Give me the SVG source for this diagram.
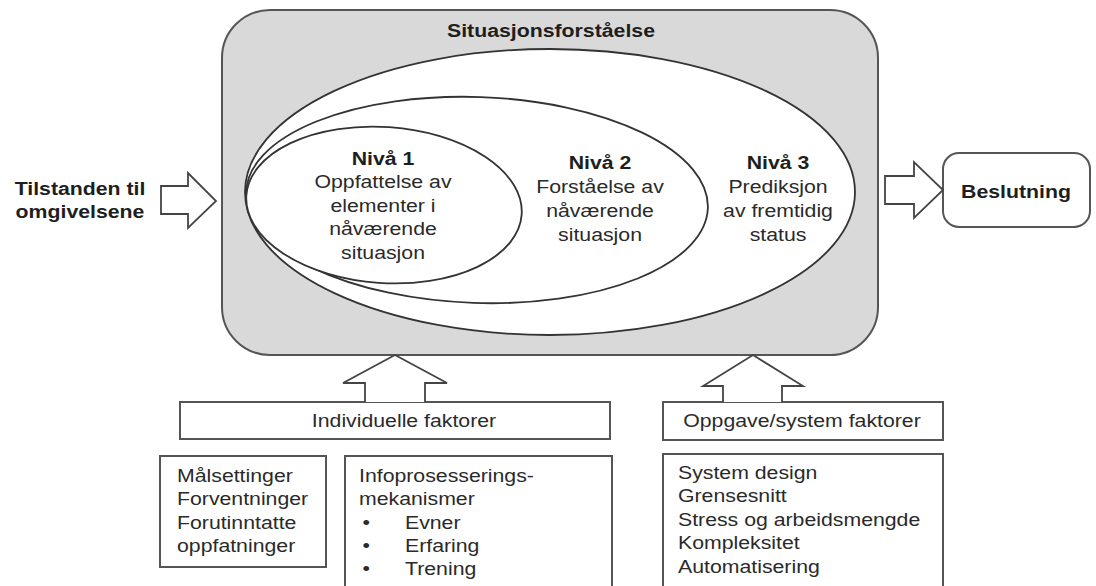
<svg xmlns="http://www.w3.org/2000/svg" width="1096" height="586" viewBox="0 0 1096 586">
<style>
text{font-family:"Liberation Sans",Arial,sans-serif;font-size:18.5px;fill:#2a2a2a}
.b{font-weight:bold;fill:#1e1e1e}
.m{text-anchor:middle}
.box{fill:#fff;stroke:#555;stroke-width:2}
.ell{fill:#fff;stroke:#333;stroke-width:1.8}
.arr{fill:#fff;stroke:#444;stroke-width:1.8;stroke-linejoin:miter}
</style>
<rect width="1096" height="586" fill="#fff"/>
<g id="situasjonsforstaelse">
<rect x="222" y="10" width="656" height="345" rx="48" ry="48" fill="#d9d9d9" stroke="#555" stroke-width="2"/>
<text class="b m" transform="translate(551,37) scale(1.15,1)">Situasjonsforståelse</text>
</g>
<g id="niva3">
<ellipse class="ell" cx="550" cy="192" rx="305" ry="143"/>
<text class="m" transform="translate(778,169) scale(1.15,1)"><tspan class="b" x="0">Nivå 3</tspan><tspan x="0" dy="24">Prediksjon</tspan><tspan x="0" dy="24">av fremtidig</tspan><tspan x="0" dy="24">status</tspan></text>
</g>
<g id="niva2">
<ellipse class="ell" cx="477" cy="200" rx="231" ry="103" transform="rotate(2 477 200)"/>
<text class="m" transform="translate(600,169) scale(1.15,1)"><tspan class="b" x="0">Nivå 2</tspan><tspan x="0" dy="24">Forståelse av</tspan><tspan x="0" dy="24">nåværende</tspan><tspan x="0" dy="24">situasjon</tspan></text>
</g>
<g id="niva1">
<ellipse class="ell" cx="384" cy="205" rx="138" ry="78" transform="rotate(4 384 205)"/>
<text class="m" transform="translate(383,165) scale(1.15,1)"><tspan class="b" x="0">Nivå 1</tspan><tspan x="0" dy="23.5">Oppfattelse av</tspan><tspan x="0" dy="23.5">elementer i</tspan><tspan x="0" dy="23.5">nåværende</tspan><tspan x="0" dy="23.5">situasjon</tspan></text>
</g>
<g id="tilstanden">
<text class="b m" transform="translate(80,195) scale(1.15,1)"><tspan x="0">Tilstanden til</tspan><tspan x="0" dy="23">omgivelsene</tspan></text>
</g>
<g id="beslutning">
<rect class="box" x="943" y="153" width="147" height="74" rx="16" ry="16"/>
<text class="b m" transform="translate(1016,198) scale(1.15,1)">Beslutning</text>
</g>
<g id="individuelle">
<rect class="box" x="180" y="402" width="430" height="37"/>
<text class="m" transform="translate(404,427) scale(1.15,1)">Individuelle  faktorer</text>
</g>
<g id="oppgave">
<rect class="box" x="663" y="402" width="280" height="38"/>
<text class="m" transform="translate(802,427) scale(1.15,1)">Oppgave/system faktorer</text>
</g>
<g id="malsettinger">
<rect class="box" x="160" y="456" width="166" height="111"/>
<text transform="translate(177,482) scale(1.15,1)"><tspan x="0">Målsettinger</tspan><tspan x="0" dy="23.3">Forventninger</tspan><tspan x="0" dy="23.3">Forutinntatte</tspan><tspan x="0" dy="23.3">oppfatninger</tspan></text>
</g>
<g id="infoprosessering">
<rect class="box" x="345" y="456" width="267" height="150"/>
<text transform="translate(359,482) scale(1.15,1)"><tspan x="0">Infoprosesserings-</tspan><tspan x="0" dy="23.3">mekanismer</tspan><tspan x="3" dy="23.3">•</tspan><tspan x="40">Evner</tspan><tspan x="3" dy="23.3">•</tspan><tspan x="40">Erfaring</tspan><tspan x="3" dy="23.3">•</tspan><tspan x="40">Trening</tspan></text>
</g>
<g id="systemfaktorer">
<rect class="box" x="663" y="454" width="280" height="152"/>
<text transform="translate(678,479) scale(1.15,1)"><tspan x="0">System design</tspan><tspan x="0" dy="23.5">Grensesnitt</tspan><tspan x="0" dy="23.5">Stress og arbeidsmengde</tspan><tspan x="0" dy="23.5">Kompleksitet</tspan><tspan x="0" dy="23.5">Automatisering</tspan></text>
</g>
<g id="connectors">
<path class="arr" d="M161,186 H188 V173 L216,201 L188,228 V214 H161 Z"/>
<path class="arr" d="M885,176 H914 V162 L943,190 L914,218 V204 H885 Z"/>
<path class="arr" d="M365,402 V383 H343 L395,355 L447,383 H425 V402"/>
<path class="arr" d="M723,402 V386 H703 L753,355 L803,386 H782 V402"/>
</g>
</svg>
